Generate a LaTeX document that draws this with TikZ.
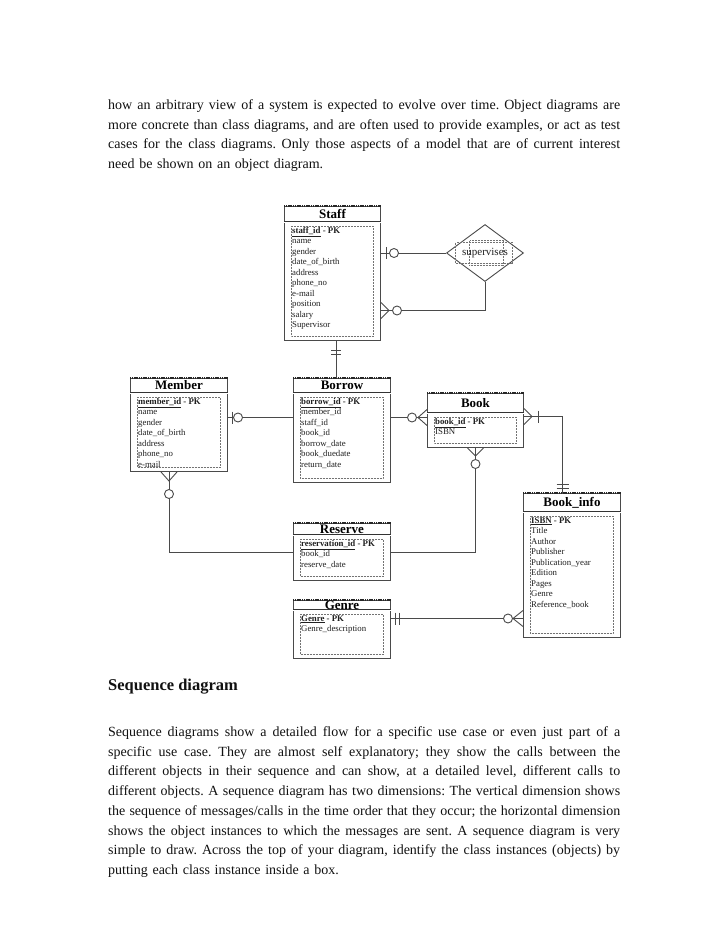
\documentclass[tikz,border=0pt]{standalone}
\usepackage{fontspec}
\setmainfont{Liberation Serif}
\usepackage{tikz}
\usetikzlibrary{positioning, shapes.geometric}
\definecolor{erLine}{HTML}{4A4A4A}
\definecolor{erText}{HTML}{202020}
\definecolor{pageText}{HTML}{111111}

% one justified line of body text
\newcommand{\jline}[1]{\leavevmode\hbox to 512pt{\frenchspacing\spaceskip=0.25em plus 1em minus 0.08em\relax #1}}

% one table: name, x, y, width, height, header height, title, attributes
\newcommand{\erEntity}[8]{%
  \node[entbox, minimum width=#4pt, minimum height=#5pt] (#1) at (#2,#3) {};
  \draw[hdrtop] (#1.north west) -- (#1.north east);
  \draw[hdrsep] ([yshift=-#6pt]#1.north west) -- ([yshift=-#6pt]#1.north east);
  \node[hdr] (#1-title) at ([yshift=-#6pt/2]#1.north) {#7};
  \draw[inbox] ([xshift=7pt, yshift={-#6pt-4pt}]#1.north west) rectangle ([xshift=-8pt, yshift=5pt]#1.south east);
  \node[attrs] (#1-attrs) at ([xshift=8pt, yshift={-#6pt-5pt}]#1.north west) {#8};
}

\begin{document}
\begin{tikzpicture}[x=1pt, y=-1pt,
    entbox/.style={draw=erLine, line width=1pt, fill=white, inner sep=0pt, anchor=north west},
    hdrtop/.style={draw=black!85, line width=1.6pt, dash pattern=on 1.2pt off 0.6pt},
    hdrsep/.style={draw=black!80, line width=0.6pt, double=white, double distance=0.8pt},
    inbox/.style={draw=black!55, densely dotted, line width=0.5pt},
    hdr/.style={font=\fontsize{13}{14}\selectfont\bfseries, inner sep=0pt},
    attrs/.style={font=\fontsize{8.8}{10.5}\selectfont, text=erText, align=left, inner sep=0pt, anchor=north west},
    rel/.style={draw=erLine, line width=0.9pt},
    ring/.style={circle, draw=erLine, line width=0.9pt, fill=white, inner sep=0pt, minimum size=9pt},
    body/.style={font=\fontsize{14}{19.7}\selectfont, text=pageText, align=left, text width=512pt, inner sep=0pt, anchor=north west}]

  \path[use as bounding box, fill=white] (0,0) rectangle (728,943);

  % text above the diagram
  \node[body] (para1) at (108,99.5) {%
    \jline{how an arbitrary view of a system is expected to evolve over time. Object diagrams are}\\
    \jline{more concrete than class diagrams, and are often used to provide examples, or act as test}\\
    \jline{cases for the class diagrams. Only those aspects of a model that are of current interest}\\
    need be shown on an object diagram.};

  % tables
  \erEntity{staff}{284}{206}{96}{134}{16}{Staff}{\textbf{\underline{staff\_id} - PK}\\name\\gender\\date\_of\_birth\\address\\phone\_no\\e-mail\\position\\salary\\Supervisor}
  \erEntity{member}{130}{378}{97}{93}{15}{Member}{\textbf{\underline{member\_id} - PK}\\name\\gender\\date\_of\_birth\\address\\phone\_no\\e-mail}
  \erEntity{borrow}{293}{378}{97}{104}{15}{Borrow}{\textbf{\underline{borrow\_id} - PK}\\member\_id\\staff\_id\\book\_id\\borrow\_date\\book\_duedate\\return\_date}
  \erEntity{book}{427}{393}{96}{54}{20}{Book}{\textbf{\underline{book\_id} - PK}\\ISBN}
  \erEntity{info}{523}{493}{97}{144}{19}{Book\_info}{\textbf{\underline{ISBN} - PK}\\Title\\Author\\Publisher\\Publication\_year\\Edition\\Pages\\Genre\\Reference\_book}
  \erEntity{reserve}{293}{523}{97}{57}{12}{Reserve}{\textbf{\underline{reservation\_id} - PK}\\book\_id\\reserve\_date}
  \erEntity{genre}{293}{600}{97}{58}{10}{Genre}{\textbf{\underline{Genre} - PK}\\Genre\_description}

  % supervises
  \node[diamond, draw=erLine, line width=0.9pt, aspect=1.35, minimum width=77pt, minimum height=57pt, inner sep=0pt] (sup) at (485,253) {};
  \node[inbox, minimum width=57pt, minimum height=21pt] (sup-box) at ([xshift=-1pt]sup.center) {};
  \node[inbox, minimum width=34pt, minimum height=25pt] (sup-box2) at ([xshift=1pt]sup.center) {};
  \node[font=\fontsize{11}{12}\selectfont, text=erText, inner sep=0pt] (sup-text) at (sup.center) {supervises};

  % staff -- supervises
  \coordinate (st1) at (staff.east |- sup.west);
  \draw[rel] (st1) -- (sup.west);
  \draw[rel] ([xshift=5pt]st1) ++(0,-6) -- ++(0,12);
  \node[ring] (st1-ring) at ([xshift=13pt]st1) {};
  \coordinate (st2) at ([yshift=-37pt]staff.east);
  \draw[rel] (sup.south) |- (st2);
  \draw[rel] ([yshift=8pt]st2) -- ([xshift=8pt]st2) -- ([yshift=-8pt]st2);
  \node[ring] (st2-ring) at ([xshift=16pt]st2) {};

  % staff -- borrow
  \coordinate (sb1) at ([xshift=3.5pt]staff.south);
  \draw[rel] (sb1) -- (sb1 |- borrow.north);
  \draw[rel] ([xshift=-5pt, yshift=-9pt]sb1) -- ++(10,0);
  \draw[rel] ([xshift=-5pt, yshift=-13pt]sb1) -- ++(10,0);

  % member -- borrow
  \coordinate (mb1) at ([yshift=7.5pt]member.east);
  \draw[rel] (mb1) -- (mb1 -| borrow.west);
  \draw[rel] ([xshift=4pt]mb1) ++(0,-6) -- ++(0,12);
  \node[ring] (mb1-ring) at ([xshift=10pt]mb1) {};

  % borrow -- book
  \coordinate (bk1) at ([yshift=3pt]book.west);
  \draw[rel] (bk1 -| borrow.east) -- (bk1);
  \draw[rel] ([yshift=8pt]bk1) -- ([xshift=-9pt]bk1) -- ([yshift=-8pt]bk1);
  \node[ring] (bk1-ring) at ([xshift=-15pt]bk1) {};

  % book -- book_info
  \coordinate (bk2) at ([yshift=4pt]book.east);
  \coordinate (bi1) at ([xshift=-9.5pt]info.north);
  \draw[rel] (bk2) -| (bi1);
  \draw[rel] ([yshift=8pt]bk2) -- ([xshift=8pt]bk2) -- ([yshift=-8pt]bk2);
  \draw[rel] ([xshift=14pt]bk2) ++(0,-6) -- ++(0,12);
  \draw[rel] ([xshift=-6pt, yshift=5pt]bi1) -- ++(12,0);
  \draw[rel] ([xshift=-6pt, yshift=9pt]bi1) -- ++(12,0);

  % book -- reserve
  \coordinate (bk3) at (book.south);
  \draw[rel] (bk3) |- (reserve.east);
  \draw[rel] ([xshift=-8pt]bk3) -- ([yshift=-8pt]bk3) -- ([xshift=8pt]bk3);
  \node[ring] (bk3-ring) at ([yshift=-16pt]bk3) {};

  % member -- reserve
  \coordinate (mb2) at ([xshift=-10pt]member.south);
  \draw[rel] (mb2) |- (reserve.west);
  \draw[rel] ([xshift=-8pt]mb2) -- ([yshift=-9pt]mb2) -- ([xshift=8pt]mb2);
  \node[ring] (mb2-ring) at ([yshift=-22pt]mb2) {};

  % genre -- book_info
  \coordinate (gn1) at ([yshift=11pt]genre.east);
  \coordinate (gn2) at (gn1 -| info.west);
  \draw[rel] (gn1) -- (gn2);
  \draw[rel] ([xshift=4pt]gn1) ++(0,-6) -- ++(0,12);
  \draw[rel] ([xshift=8pt]gn1) ++(0,-6) -- ++(0,12);
  \draw[rel] ([yshift=8pt]gn2) -- ([xshift=-10pt]gn2) -- ([yshift=-8pt]gn2);
  \node[ring] (gn2-ring) at ([xshift=-15pt]gn2) {};

  % text below the diagram
  \node[anchor=base west, inner sep=0pt, text=pageText, font=\fontsize{16.5}{18}\selectfont\bfseries] (heading) at (108,690) {Sequence diagram};
  \node[body] (para2) at (108,726.5) {%
    \jline{Sequence diagrams show a detailed flow for a specific use case or even just part of a}\\
    \jline{specific use case. They are almost self explanatory; they show the calls between the}\\
    \jline{different objects in their sequence and can show, at a detailed level, different calls to}\\
    \jline{different objects. A sequence diagram has two dimensions: The vertical dimension shows}\\
    \jline{the sequence of messages/calls in the time order that they occur; the horizontal dimension}\\
    \jline{shows the object instances to which the messages are sent. A sequence diagram is very}\\
    \jline{simple to draw. Across the top of your diagram, identify the class instances (objects) by}\\
    putting each class instance inside a box.};
\end{tikzpicture}
\end{document}
